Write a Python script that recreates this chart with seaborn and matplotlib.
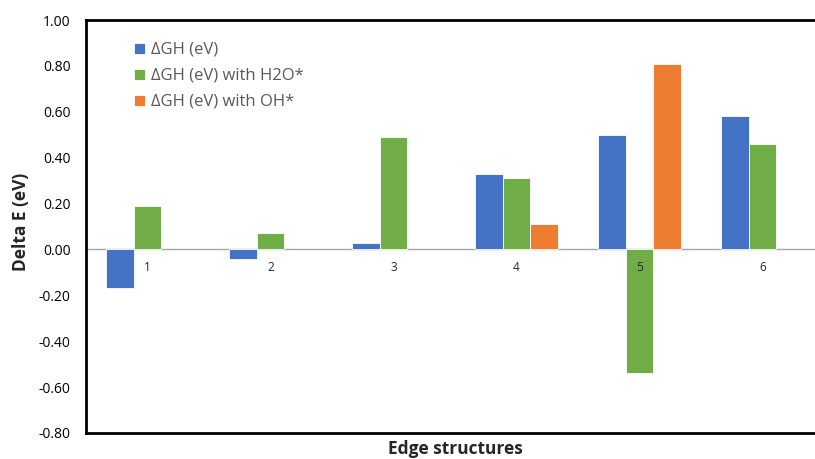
import numpy as np
import pandas as pd
import matplotlib
matplotlib.use("Agg")
import matplotlib.pyplot as plt
import seaborn as sns

structures = ["1", "2", "3", "4", "5", "6"]
series_names = ["ΔGH (eV)", "ΔGH (eV) with H2O*", "ΔGH (eV) with OH*"]
dgh = [-0.17, -0.04, 0.03, 0.33, 0.50, 0.58]
dgh_h2o = [0.19, 0.07, 0.49, 0.31, -0.54, 0.46]
dgh_oh = [np.nan, np.nan, np.nan, 0.11, 0.81, np.nan]
yticks = [-0.8, -0.6, -0.4, -0.2, 0.0, 0.2, 0.4, 0.6, 0.8, 1.0]
colors = ["#4472C4", "#70AD47", "#ED7D31"]

sns.set_style("white")
plt.rcParams["font.family"] = ["Open Sans", "DejaVu Sans"]

rows = []
for name, vals in zip(series_names, [dgh, dgh_h2o, dgh_oh]):
    for s, v in zip(structures, vals):
        rows.append({"structure": s, "series": name, "value": v})
df = pd.DataFrame(rows)

W, H = 815, 459
fig = plt.figure(figsize=(W / 100, H / 100), dpi=100)
ax = fig.add_axes([86 / W, (H - 433) / H, (824 - 86) / W, (433 - 20) / H])

ax.axhline(0, color="#A6A6A6", linewidth=1, zorder=1)
sns.barplot(data=df, x="structure", y="value", hue="series",
            order=structures, hue_order=series_names, palette=colors,
            saturation=1, errorbar=None, width=0.67, gap=0, edgecolor="white",
            linewidth=0.6, ax=ax, zorder=2)

ax.set_xlim(-0.5, 5.5)
ax.set_ylim(-0.8, 1.0)
ax.set_yticks(yticks)
ax.set_yticklabels([f"{t:.2f}" for t in yticks], fontsize=10, color="#000000")
ax.tick_params(axis="y", direction="out", length=5, width=1.2, color="black", pad=6)
ax.set_xticks([])
ax.set_xlabel("Edge structures", fontsize=12.5, fontweight="bold", labelpad=5)
ax.set_ylabel("Delta E (eV)", fontsize=12.5, fontweight="bold")
ax.yaxis.set_label_coords(-0.076, 0.51)

for side in ["left", "top", "bottom"]:
    ax.spines[side].set_visible(True)
    ax.spines[side].set_color("black")
    ax.spines[side].set_linewidth(2)
ax.spines["right"].set_visible(False)

# category labels next to the zero line, drawn above the bars
sec = ax.secondary_xaxis(0.8 / 1.8)
sec.set_xticks(range(len(structures)))
sec.set_xticklabels(structures, fontsize=8.5)
sec.tick_params(length=0, pad=8)
sec.spines["bottom"].set_visible(False)
sec.set_zorder(5)

handles, labels = ax.get_legend_handles_labels()
leg = ax.legend(handles, labels, loc="upper left",
                bbox_to_anchor=(119 / W, 1 - 27 / H), bbox_transform=fig.transFigure,
                frameon=False, fontsize=12, handlelength=0.65, handleheight=0.65,
                handletextpad=0.35, labelspacing=0.6, labelcolor="#595959")

fig.savefig("out.png", dpi=100)
